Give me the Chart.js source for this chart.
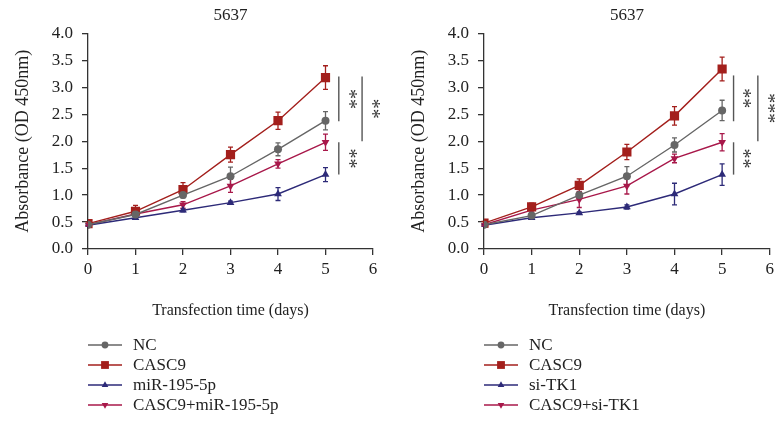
<!DOCTYPE html>
<html>
<head>
<meta charset="utf-8">
<script src="https://cdn.jsdelivr.net/npm/chart.js@4.4.1/dist/chart.umd.min.js"></script>
<style>
  body { margin: 0; background: #fff; }
  #wrap { position: relative; width: 775px; height: 421px; overflow: hidden; }
  canvas { position: absolute; top: 0; }
</style>
</head>
<body>
<div id="wrap">
  <canvas id="left" width="388" height="421" style="left:0"></canvas>
  <canvas id="right" width="390" height="421" style="left:388px"></canvas>
</div>
<script>
// transfection days
const days = [0, 1, 2, 3, 4, 5];
const yTickLabels = ['0.0', '0.5', '1.0', '1.5', '2.0', '2.5', '3.0', '3.5', '4.0'];

// left panel (miR-195-5p)
const leftNames = ['NC', 'CASC9', 'miR-195-5p', 'CASC9+miR-195-5p'];
const leftNC = [0.45, 0.64, 1.00, 1.35, 1.85, 2.38];
const leftNCErr = [0.02, 0.04, 0.05, 0.17, 0.12, 0.17];
const leftCASC9 = [0.47, 0.70, 1.10, 1.75, 2.38, 3.18];
const leftCASC9Err = [0.03, 0.11, 0.13, 0.14, 0.16, 0.22];
const leftMiR = [0.44, 0.58, 0.72, 0.86, 1.02, 1.38];
const leftMiRErr = [0.02, 0.03, 0.03, 0.03, 0.12, 0.13];
const leftCombo = [0.45, 0.65, 0.82, 1.17, 1.58, 1.98];
const leftComboErr = [0.02, 0.05, 0.06, 0.12, 0.08, 0.15];
const leftSig = [
  { x: 5.28, from: 3.20, to: 2.37, label: '**' },
  { x: 5.77, from: 3.20, to: 2.00, label: '**' },
  { x: 5.28, from: 1.98, to: 1.38, label: '**' }
];

// right panel (si-TK1)
const rightNames = ['NC', 'CASC9', 'si-TK1', 'CASC9+si-TK1'];
const rightNC = [0.45, 0.62, 1.00, 1.35, 1.93, 2.57];
const rightNCErr = [0.02, 0.04, 0.05, 0.18, 0.13, 0.19];
const rightCASC9 = [0.48, 0.78, 1.18, 1.80, 2.47, 3.34];
const rightCASC9Err = [0.03, 0.07, 0.12, 0.14, 0.17, 0.22];
const rightSiTK1 = [0.44, 0.58, 0.67, 0.78, 1.02, 1.38];
const rightSiTK1Err = [0.02, 0.03, 0.02, 0.04, 0.20, 0.20];
const rightCombo = [0.45, 0.72, 0.92, 1.17, 1.68, 1.98];
const rightComboErr = [0.02, 0.05, 0.15, 0.15, 0.08, 0.16];
const rightSig = [
  { x: 5.24, from: 3.22, to: 2.37, label: '**' },
  { x: 5.75, from: 3.22, to: 2.00, label: '***' },
  { x: 5.24, from: 1.98, to: 1.38, label: '**' }
];

const FONT = "'Liberation Serif', 'Times New Roman', serif";
Chart.defaults.font.family = FONT;
Chart.defaults.color = '#222';

const styles = [
  { color: '#666666', pointStyle: 'circle', radius: 4, rotation: 0 },
  { color: '#a31f1c', pointStyle: 'rect', radius: 6.5, rotation: 0 },
  { color: '#2d2a78', pointStyle: 'triangle', radius: 4.5, rotation: 0 },
  { color: '#a8184a', pointStyle: 'triangle', radius: 4.5, rotation: 180 }
];

function makeDataset(name, values, errs, i) {
  const s = styles[i];
  return {
    label: name,
    data: days.map((d, k) => ({ x: d, y: values[k] })),
    errors: errs,
    borderColor: s.color,
    backgroundColor: s.color,
    borderWidth: 1.4,
    pointStyle: s.pointStyle,
    pointRadius: s.radius,
    pointRotation: s.rotation,
    pointBorderWidth: 0,
    tension: 0
  };
}

// error bars, drawn under the markers
const errorBars = {
  id: 'errorBars',
  beforeDatasetsDraw(chart) {
    const ctx = chart.ctx;
    const xs = chart.scales.x, ys = chart.scales.y;
    ctx.save();
    chart.data.datasets.forEach(ds => {
      ctx.strokeStyle = ds.borderColor;
      ctx.lineWidth = 1.3;
      ds.data.forEach((p, k) => {
        const e = ds.errors[k];
        const px = xs.getPixelForValue(p.x);
        const top = ys.getPixelForValue(p.y + e);
        const bot = ys.getPixelForValue(p.y - e);
        ctx.beginPath();
        ctx.moveTo(px, top); ctx.lineTo(px, bot);
        ctx.moveTo(px - 2.5, top); ctx.lineTo(px + 2.5, top);
        ctx.moveTo(px - 2.5, bot); ctx.lineTo(px + 2.5, bot);
        ctx.stroke();
      });
    });
    ctx.restore();
  }
};

// significance brackets and the legend list below the axes
const extras = {
  id: 'extras',
  afterDraw(chart, args, opts) {
    const ctx = chart.ctx;
    const xs = chart.scales.x, ys = chart.scales.y;
    ctx.save();
    opts.sig.forEach(s => {
      const px = xs.getPixelForValue(s.x);
      ctx.strokeStyle = '#555';
      ctx.lineWidth = 1.4;
      ctx.beginPath();
      ctx.moveTo(px, ys.getPixelForValue(s.from));
      ctx.lineTo(px, ys.getPixelForValue(s.to));
      ctx.stroke();
      const mid = (ys.getPixelForValue(s.from) + ys.getPixelForValue(s.to)) / 2;
      ctx.save();
      ctx.translate(px + 12, mid);
      ctx.rotate(Math.PI / 2);
      ctx.fillStyle = '#333';
      ctx.font = '20px ' + FONT;
      ctx.textAlign = 'center';
      ctx.textBaseline = 'middle';
      ctx.fillText(s.label, 0, 3);
      ctx.restore();
    });

    const x0 = chart.chartArea.left;
    chart.data.datasets.forEach((ds, i) => {
      const y = 345 + i * 20;
      ctx.strokeStyle = ds.borderColor;
      ctx.lineWidth = 1.4;
      ctx.beginPath();
      ctx.moveTo(x0, y); ctx.lineTo(x0 + 34, y);
      ctx.stroke();
      ctx.fillStyle = ds.backgroundColor;
      Chart.helpers.drawPoint(ctx, {
        pointStyle: ds.pointStyle,
        radius: ds.pointRadius * 0.85,
        rotation: ds.pointRotation,
        borderWidth: 0
      }, x0 + 17, y);
      ctx.fillStyle = '#222';
      ctx.font = '17px ' + FONT;
      ctx.textAlign = 'left';
      ctx.textBaseline = 'middle';
      ctx.fillText(ds.label, x0 + 45, y + 1);
    });
    ctx.restore();
  }
};

function makeChart(id, names, series, errs, sig, yWidth, yTitlePad, rightPad) {
  new Chart(document.getElementById(id), {
    type: 'line',
    data: {
      datasets: names.map((n, i) => makeDataset(n, series[i], errs[i], i))
    },
    options: {
      responsive: false,
      animation: false,
      devicePixelRatio: 1,
      layout: { padding: { top: 0, left: 0, right: rightPad, bottom: 101 } },
      plugins: {
        legend: { display: false },
        tooltip: { enabled: false },
        title: {
          display: true,
          fullSize: false,
          text: '5637',
          color: '#222',
          font: { size: 17, weight: 'normal' },
          padding: { top: 5, bottom: 8 }
        },
        extras: { sig: sig }
      },
      scales: {
        x: {
          type: 'linear',
          min: 0, max: 6,
          afterFit(scale) { scale.height = 71; },
          ticks: { stepSize: 1, font: { size: 17 }, color: '#222', padding: 4 },
          grid: { drawOnChartArea: false, drawTicks: true, tickLength: 6, color: '#333', lineWidth: 1.3 },
          border: { color: '#333', width: 1.3 },
          title: {
            display: true,
            text: 'Transfection time (days)',
            color: '#222',
            font: { size: 16 },
            padding: { top: 0, bottom: 0 }
          }
        },
        y: {
          min: 0, max: 4,
          afterFit(scale) { scale.width = yWidth; },
          ticks: {
            stepSize: 0.5,
            font: { size: 17 },
            color: '#222',
            padding: 9,
            callback: (v, i) => yTickLabels[i]
          },
          grid: { drawOnChartArea: false, drawTicks: true, tickLength: 6, color: '#333', lineWidth: 1.3 },
          border: { color: '#333', width: 1.3 },
          title: {
            display: true,
            text: 'Absorbance (OD 450nm)',
            color: '#222',
            font: { size: 18 },
            padding: { top: yTitlePad, bottom: 0 }
          }
        }
      }
    },
    plugins: [errorBars, extras]
  });
}

makeChart('left', leftNames,
  [leftNC, leftCASC9, leftMiR, leftCombo],
  [leftNCErr, leftCASC9Err, leftMiRErr, leftComboErr],
  leftSig, 88, 12, 15);

makeChart('right', rightNames,
  [rightNC, rightCASC9, rightSiTK1, rightCombo],
  [rightNCErr, rightCASC9Err, rightSiTK1Err, rightComboErr],
  rightSig, 96, 20, 0);
</script>
</body>
</html>
